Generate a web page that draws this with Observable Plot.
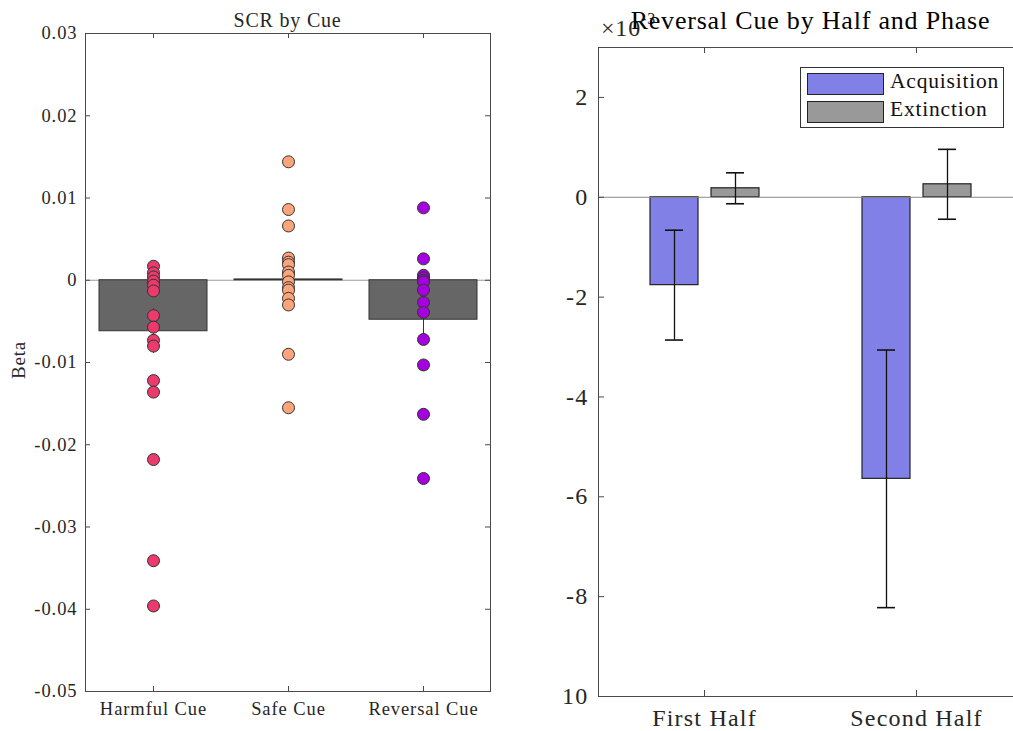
<!DOCTYPE html>
<html>
<head>
<meta charset="utf-8">
<script src="https://cdn.jsdelivr.net/npm/d3@7"></script>
<script src="https://cdn.jsdelivr.net/npm/@observablehq/plot@0.6"></script>
<style>
  body { margin: 0; background: #fff; }
  #fig { position: relative; width: 1013px; height: 731px; overflow: hidden; background: #fff;
         font-family: "Liberation Serif", serif; color: #262626; letter-spacing: 0.05em; }
  .abs { position: absolute; white-space: nowrap; }
  #left { position: absolute; left: 0; top: 0; }
  #rightwrap { position: absolute; left: 562px; top: 0; width: 451px; height: 731px; overflow: hidden; }
  #legend { position: absolute; left: 800px; top: 67px; width: 204px; height: 61px; box-sizing: border-box;
            border: 1px solid #333; background: #fff; }
  .sw { position: absolute; left: 6px; width: 77px; height: 22px; box-sizing: border-box; border: 1.5px solid #222; }
  .lt { position: absolute; left: 89px; font-size: 21.5px; line-height: 21.5px; color: #111; }
</style>
</head>
<body>
<div id="fig">
  <div id="left"></div>
  <div id="rightwrap"></div>
  <div class="abs" id="ylab" style="left:18px;top:360px;font-size:19px;line-height:19px;transform:translate(-50%,-50%) rotate(-90deg);">Beta</div>
  <div class="abs" id="t1" style="left:287.5px;top:10px;font-size:20px;line-height:20px;transform:translateX(-50%);">SCR by Cue</div>
  <div class="abs" id="expo" style="left:601px;top:16px;font-size:24px;line-height:24px;">×10</div>
  <div class="abs" id="expo2" style="left:641px;top:11px;font-size:16px;line-height:16px;">-3</div>
  <div class="abs" id="t2" style="left:810.5px;top:8px;font-size:26px;line-height:26px;transform:translateX(-50%);color:#000;">Reversal Cue by Half and Phase</div>
  <div id="legend"></div>
</div>
<script>
// ---- SCR by cue: per-participant betas, group means and standard errors ----
const cues = ["Harmful Cue", "Safe Cue", "Reversal Cue"];
const cueColors = ["#ec3a6c", "#fca57c", "#a600e0"];
const cueMeans = [-0.0062, 0.0001, -0.0048];
const cueSE = [0.0027, 0.0018, 0.0025];
const harmfulBetas = [0.0017, 0.0009, 0.0004, -0.0001, -0.0006, -0.0013, -0.0043, -0.0057,
                      -0.0073, -0.0080, -0.0122, -0.0136, -0.0218, -0.0341, -0.0396];
const safeBetas = [0.0144, 0.0086, 0.0066, 0.0027, 0.0022, 0.0019, 0.0010, 0.0006, -0.0002,
                   -0.0009, -0.0012, -0.0022, -0.0030, -0.0090, -0.0155];
const reversalBetas = [0.0088, 0.0026, 0.0006, 0.0003, 0.0000, -0.0002, -0.0012, -0.0027,
                       -0.0039, -0.0072, -0.0103, -0.0163, -0.0241];
const leftTicks = [0.03, 0.02, 0.01, 0, -0.01, -0.02, -0.03, -0.04, -0.05];

// ---- Reversal cue by half and phase (values in units of 10^-3) ----
const halves = ["First Half", "Second Half"];
const phases = ["Acquisition", "Extinction"];
const phaseColors = ["#8080e6", "#999999"];
const acquisitionMeans = [-1.76, -5.64];
const acquisitionSE = [1.10, 2.58];
const extinctionMeans = [0.18, 0.26];
const extinctionSE = [0.31, 0.70];
const rightTicks = [2, 0, -2, -4, -6, -8, -10];

// tables built from the arrays above
const betaBySubject = [
  ...harmfulBetas.map(beta => ({cue: cues[0], beta})),
  ...safeBetas.map(beta => ({cue: cues[1], beta})),
  ...reversalBetas.map(beta => ({cue: cues[2], beta}))
];
const cueStats = cues.map((cue, i) => ({cue, mean: cueMeans[i], se: cueSE[i]}));
const reversal = halves.flatMap((half, i) => [
  {half, phase: phases[0], mean: acquisitionMeans[i], se: acquisitionSE[i]},
  {half, phase: phases[1], mean: extinctionMeans[i], se: extinctionSE[i]}
]);

const axisColor = "#4a4a4a";
const svgStyle = size => ({fontFamily: "Liberation Serif", fontSize: size, letterSpacing: "0.05em",
                           color: "#262626", background: "transparent", overflow: "visible",
                           maxWidth: "none"});

// left panel layout
const L = {width: 500, height: 731, top: 33, right: 10, bottom: 40, left: 85};
const LW = L.width - L.left - L.right, LH = L.height - L.top - L.bottom;

const leftPlot = Plot.plot({
  width: L.width, height: L.height,
  marginTop: L.top, marginRight: L.right, marginBottom: L.bottom, marginLeft: L.left,
  style: svgStyle("18.5px"),
  x: {domain: cues, paddingInner: 0.2, paddingOuter: 0.1},
  y: {domain: [-0.05, 0.03]},
  color: {domain: cues, range: cueColors},
  marks: [
    Plot.ruleY([0], {stroke: "#9a9a9a", strokeWidth: 1}),
    Plot.barY(cueStats, {x: "cue", y: "mean", fill: "#666666", stroke: "#333", strokeWidth: 1}),
    Plot.ruleX(cueStats, {x: "cue", y1: d => d.mean - d.se, y2: d => d.mean + d.se, stroke: "#333", strokeWidth: 1}),
    Plot.dot(betaBySubject, {x: "cue", y: "beta", r: 6, fill: "cue", stroke: "#333", strokeWidth: 1}),
    Plot.frame({stroke: axisColor, strokeWidth: 1}),
    // inward tick marks on all four sides
    Plot.tickY(leftTicks, {y: d => d, insetRight: LW - 5, stroke: axisColor}),
    Plot.tickY(leftTicks, {y: d => d, insetLeft: LW - 5, stroke: axisColor}),
    Plot.tickX(cues, {x: d => d, insetTop: LH - 5, stroke: axisColor}),
    Plot.tickX(cues, {x: d => d, insetBottom: LH - 5, stroke: axisColor}),
    Plot.axisY({ticks: leftTicks, tickSize: 0, tickPadding: 8, label: null,
                tickFormat: d => d === 0 ? "0" : d.toFixed(2)}),
    Plot.axisX({tickSize: 0, tickPadding: 10, label: null})
  ]
});
document.getElementById("left").append(leftPlot);

// right panel layout (frame continues past the right edge of the figure);
// the two half facets tile the frame with no gap between them
const R = {width: 500, height: 731, top: 47, right: 40, bottom: 35, left: 36};
const RW = R.width - R.left - R.right, RH = R.height - R.top - R.bottom;
const facetW = RW / halves.length;

const rightPlot = Plot.plot({
  width: R.width, height: R.height,
  marginTop: R.top, marginRight: R.right, marginBottom: R.bottom, marginLeft: R.left,
  style: svgStyle("24px"),
  fx: {domain: halves, padding: 0, label: null},
  x: {domain: phases, paddingInner: 0.2146, paddingOuter: 0.831, axis: null},
  y: {domain: [-10, 3]},
  color: {domain: phases, range: phaseColors},
  marks: [
    Plot.barY(reversal, {fx: "half", x: "phase", y: "mean", fill: "phase", stroke: "#222", strokeWidth: 1.2}),
    Plot.ruleY([0], {stroke: "#8a8a8a", strokeWidth: 1}),
    Plot.ruleX(reversal, {fx: "half", x: "phase", y1: d => d.mean - d.se, y2: d => d.mean + d.se,
                          stroke: "#111", strokeWidth: 1.3}),
    Plot.tickY(reversal, {fx: "half", x: "phase", y: d => d.mean + d.se, insetLeft: 15, insetRight: 15,
                          stroke: "#111", strokeWidth: 1.6}),
    Plot.tickY(reversal, {fx: "half", x: "phase", y: d => d.mean - d.se, insetLeft: 15, insetRight: 15,
                          stroke: "#111", strokeWidth: 1.6}),
    Plot.frame({facet: "super", stroke: axisColor, strokeWidth: 1}),
    Plot.tickY(rightTicks, {y: d => d, facetAnchor: "left", insetRight: facetW - 6, stroke: axisColor}),
    Plot.ruleX(halves, {fx: d => d, x: null, insetBottom: RH - 6, stroke: axisColor}),
    Plot.ruleX(halves, {fx: d => d, x: null, insetTop: RH - 6, stroke: axisColor}),
    Plot.axisY({ticks: rightTicks, tickSize: 0, tickPadding: 10, label: null, tickFormat: d => String(d)}),
    Plot.axisFx({anchor: "bottom", tickSize: 0, tickPadding: 12, label: null})
  ]
});
document.getElementById("rightwrap").append(rightPlot);

// legend for the phase colours
const legend = document.getElementById("legend");
phases.forEach((p, i) => {
  const sw = document.createElement("div");
  sw.className = "sw";
  sw.style.top = (5 + i * 27.5) + "px";
  sw.style.background = phaseColors[i];
  legend.append(sw);
  const t = document.createElement("div");
  t.className = "lt";
  t.style.top = (3 + i * 27.5) + "px";
  t.textContent = p;
  legend.append(t);
});
</script>
</body>
</html>
